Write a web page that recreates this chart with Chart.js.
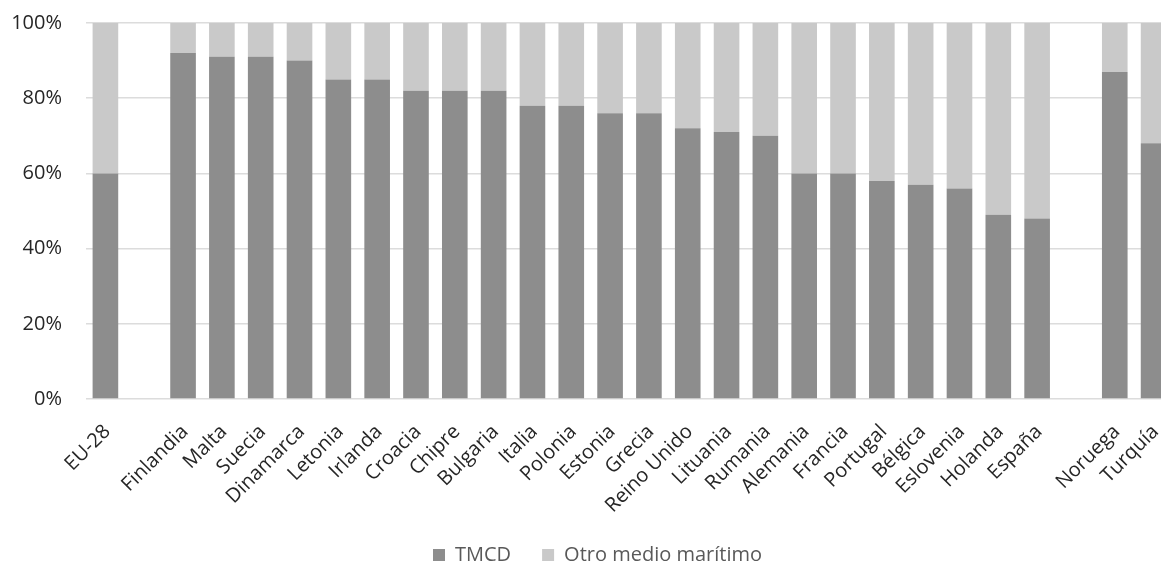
<!DOCTYPE html>
<html>
<head>
<meta charset="utf-8">
<script src="https://cdn.jsdelivr.net/npm/chart.js@4/dist/chart.umd.min.js"></script>
<style>
  html, body { margin: 0; padding: 0; background: #fff; overflow: hidden; }
  #wrap { width: 1195px; height: 569px; }
</style>
</head>
<body>
<div id="wrap"><canvas id="chart" width="1195" height="569"></canvas></div>
<script>
// Categories (empty strings are spacer slots between groups)
const categories = ['EU-28', '', 'Finlandia', 'Malta', 'Suecia', 'Dinamarca', 'Letonia', 'Irlanda',
  'Croacia', 'Chipre', 'Bulgaria', 'Italia', 'Polonia', 'Estonia', 'Grecia', 'Reino Unido',
  'Lituania', 'Rumania', 'Alemania', 'Francia', 'Portugal', 'Bélgica', 'Eslovenia', 'Holanda',
  'España', '', 'Noruega', 'Turquía'];

// Share of each mode (%)
const tmcdValues = [60, null, 92, 91, 91, 90, 85, 85, 82, 82, 82, 78, 78, 76, 76, 72, 71, 70,
  60, 60, 58, 57, 56, 49, 48, null, 87, 68];
const otroValues = [40, null, 8, 9, 9, 10, 15, 15, 18, 18, 18, 22, 22, 24, 24, 28, 29, 30,
  40, 40, 42, 43, 44, 51, 52, null, 13, 32];

const seriesNames = ['TMCD', 'Otro medio marítimo'];
const yTicks = [0, 20, 40, 60, 80, 100];

const FONT = "'Open Sans', 'DejaVu Sans', sans-serif";

// keep the plot edges where the layout padding puts them
const noEdgePadding = s => { s.paddingTop = 0; s.paddingBottom = 0; };

new Chart(document.getElementById('chart'), {
  type: 'bar',
  data: {
    labels: categories,
    datasets: [
      { label: seriesNames[0], data: tmcdValues, backgroundColor: '#8d8d8d',
        barPercentage: 1, categoryPercentage: 0.66 },
      { label: seriesNames[1], data: otroValues, backgroundColor: '#c9c9c9',
        barPercentage: 1, categoryPercentage: 0.66 }
    ]
  },
  options: {
    responsive: false,
    animation: false,
    layout: { padding: { top: 23, left: 0, right: 0, bottom: -6 } },
    plugins: {
      tooltip: { enabled: false },
      legend: {
        position: 'bottom',
        labels: {
          boxWidth: 12, boxHeight: 12, padding: 31,
          color: '#595959',
          font: { family: FONT, size: 20 }
        }
      }
    },
    scales: {
      x: {
        stacked: true,
        grid: { display: false },
        border: { display: false },
        ticks: {
          autoSkip: false, minRotation: 45, maxRotation: 45,
          color: '#262626', padding: 13, labelOffset: 2,
          font: { family: FONT, size: 20 }
        },
        afterFit: s => { s.height = 115; }
      },
      y: {
        stacked: true,
        min: 0, max: 100,
        afterBuildTicks: s => { s.ticks = yTicks.map(v => ({ value: v })); },
        ticks: {
          callback: v => v + '%',
          color: '#262626', padding: 24,
          font: { family: FONT, size: 20 }
        },
        grid: { color: '#dcdcdc', lineWidth: 1.5, drawTicks: false },
        border: { display: false },
        afterFit: s => { s.width = 86; noEdgePadding(s); }
      },
      yRight: {
        position: 'right',
        display: true,
        grid: { display: false },
        border: { display: false },
        ticks: { display: false },
        afterFit: s => { s.width = 22; noEdgePadding(s); }
      }
    }
  }
});
</script>
</body>
</html>
